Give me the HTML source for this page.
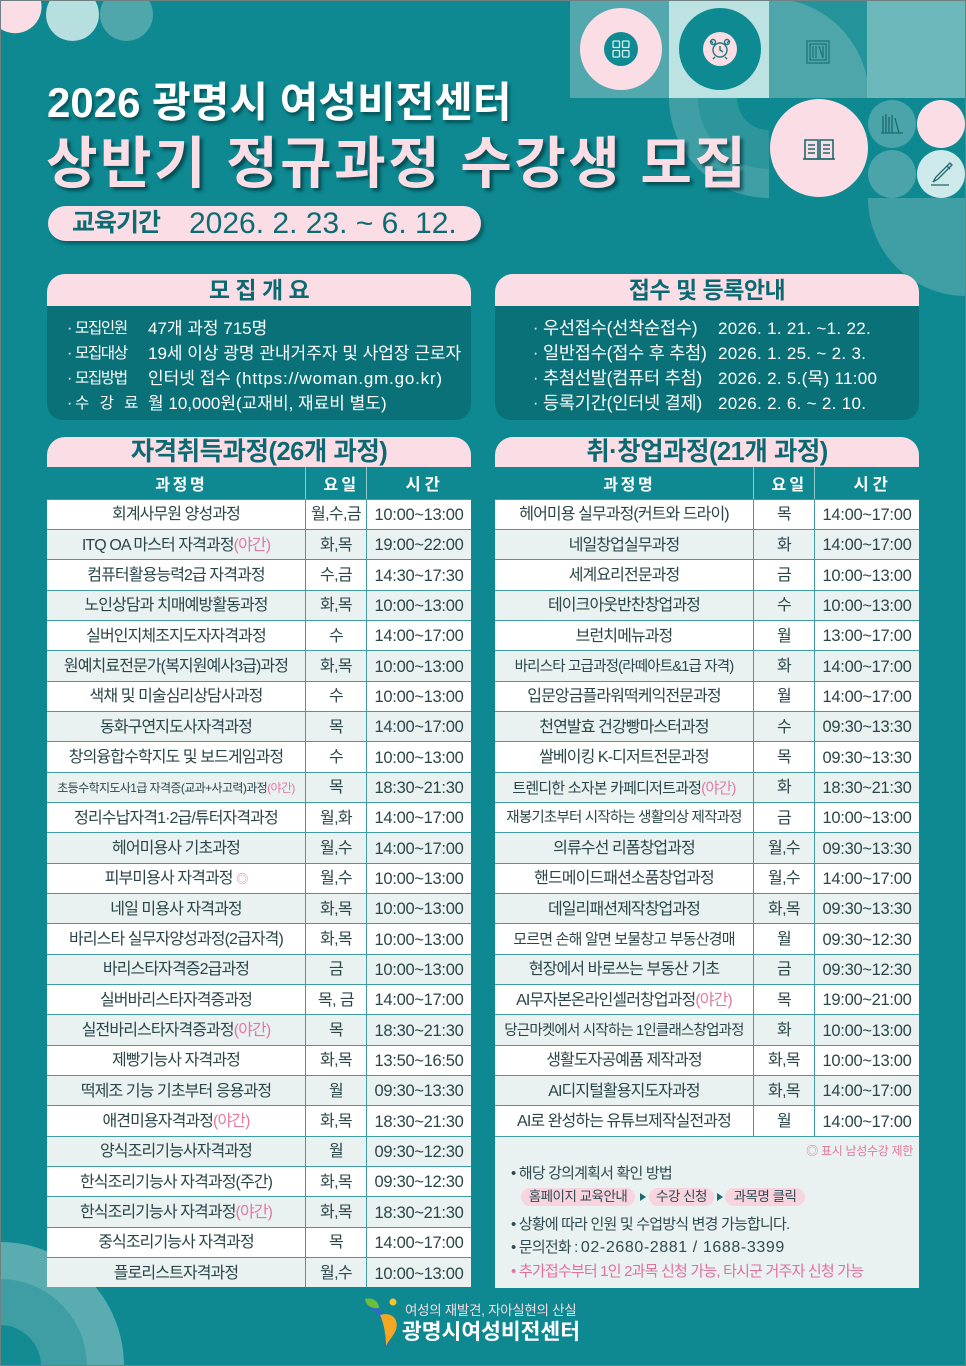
<!DOCTYPE html>
<html lang="ko">
<head>
<meta charset="utf-8">
<style>
*{margin:0;padding:0;box-sizing:border-box}
html,body{width:966px;height:1366px;overflow:hidden;background:#0e8991}
body{position:relative;font-family:"Liberation Sans","Noto Sans CJK KR",sans-serif}
.abs{position:absolute;white-space:nowrap}
.t1{color:#fff;font-weight:700;text-shadow:2px 3px 3px rgba(0,45,50,.6)}
.t2{color:#fbdde5;font-weight:700;text-shadow:3px 3px 3px rgba(0,45,50,.65)}
.pill{position:absolute;left:48px;top:206px;width:433px;height:35px;border-radius:18px;background:#fbdde5;box-shadow:3px 3px 3px rgba(0,45,50,.45);color:#0d6b72}
.box{position:absolute;top:274px;width:424px}
.bt{height:32px;background:#fbdde5;border-radius:18px 18px 0 0;text-align:center;font-weight:700;font-size:23px;line-height:32px;color:#0b6a71;letter-spacing:-0.5px}
.bb{height:114px;background:#0b7178;border-radius:0 0 16px 16px;position:relative;color:#fff}
.ln{position:absolute;left:0;right:0;height:25px;line-height:25px;white-space:nowrap}
.ln span{position:absolute;top:0}
.lb{font-size:15.5px;letter-spacing:-1.3px}
.lv{font-size:17px;letter-spacing:0}
.rl{font-size:17.5px;letter-spacing:-0.2px}
.rv{font-size:17px;letter-spacing:0.3px}
.tt{position:absolute;top:437px;width:424px;height:30px;background:#fbdde5;border-radius:18px 18px 0 0;text-align:center;font-weight:700;font-size:25.5px;line-height:31px;color:#0b6a71;letter-spacing:-0.5px}
.tbl{position:absolute;top:467px;width:424px}
.th{height:31.5px;display:flex;background:#0e8991;color:#fff;font-weight:700;font-size:16px;letter-spacing:7px}
.th>div{display:flex;align-items:center;justify-content:center;padding-left:7px}
.th .c2,.th .c3{border-left:1.5px solid #8fcacd}
.r{height:30.35px;display:flex;border-top:1.5px solid #3f9ca2;background:#fff;color:#2a4649}
.r:nth-child(odd){background:#e9f1f1}
.r>div{display:flex;align-items:center;justify-content:center;line-height:1;white-space:nowrap;padding-top:2px}
.c1{width:258px;font-size:16px;letter-spacing:-0.9px}
.c2{width:61px;border-left:1.5px solid #3f9ca2;font-size:16px;letter-spacing:-0.6px}
.c3{width:105px;border-left:1.5px solid #3f9ca2;font-size:16.5px;letter-spacing:-0.3px}
.y{color:#e27aa3}
.s14{font-size:14.5px !important;letter-spacing:-0.8px !important}
.s145{font-size:15px !important;letter-spacing:-0.8px !important}
.s115{font-size:12px !important;letter-spacing:-0.6px !important}
.notes{position:absolute;left:495px;top:1135.8px;width:424px;height:151.8px;background:#e9f1f1;border-top:1.5px solid #3f9ca2;color:#2e4b4f}
.nl{position:absolute;left:16px;height:22px;line-height:22px;font-size:15px;letter-spacing:-0.8px;white-space:nowrap}
.pl{position:absolute;top:51px;height:18px;line-height:18px;border-radius:9px;background:#f8d4df;font-size:13.5px;letter-spacing:-0.5px;text-align:center;color:#2e4b4f}
.ar{position:absolute;top:56px;width:0;height:0;border-top:4px solid transparent;border-bottom:4px solid transparent;border-left:6px solid #1b6a70}
</style>
</head>
<body>
<svg class="abs" style="left:0;top:0" width="966" height="1366" viewBox="0 0 966 1366" xmlns="http://www.w3.org/2000/svg">
<rect width="966" height="1366" fill="#0e8991"/>
<path d="M0 0 L40.7 0 A26.5 26.5 0 0 1 0 28.5 Z" fill="#fbdde5"/>
<path d="M50.3 0 A26.5 26.5 0 1 0 94.7 0 Z" fill="#b8dfe0"/>
<path d="M104.3 0 A26.5 26.5 0 1 0 148.7 0 Z" fill="#4fa7ac"/>
<rect x="570" y="0" width="99" height="98" fill="#52a8ad"/>
<circle cx="621" cy="49" r="41" fill="#fbdde5"/>
<circle cx="621" cy="49" r="17" fill="#0e8a92"/>
<g fill="none" stroke="#d6f0f0" stroke-width="1.3">
<rect x="613" y="41" width="6.5" height="6.5" rx="1"/><rect x="622.5" y="41" width="6.5" height="6.5" rx="1"/>
<rect x="613" y="50.5" width="6.5" height="6.5" rx="1"/><rect x="622.5" y="50.5" width="6.5" height="6.5" rx="1"/>
</g>
<rect x="669" y="0" width="100" height="98" fill="#bde2e2"/>
<circle cx="720" cy="49" r="41" fill="#0e8a92"/>
<circle cx="720" cy="49" r="17" fill="#fbdde5"/>
<g fill="none" stroke="#1b7a80" stroke-width="1.4">
<circle cx="720" cy="50" r="7"/><path d="M720 46v4l3 2M713 43l-2-2M727 43l2-2M715 57l-2 2M725 57l2 2"/>
<circle cx="713" cy="42" r="2.5"/><circle cx="727" cy="42" r="2.5"/>
</g>
<rect x="769" y="0" width="98" height="98" fill="#24939a"/>
<path d="M769 98 L769 0 L788.9 0 A100 100 0 0 1 867 78.1 L867 98 Z" fill="#4ea6ab"/>
<g fill="none" stroke="#1d7479" stroke-width="1.3">
<rect x="807" y="41" width="22" height="22"/><rect x="810" y="44" width="16" height="16"/>
<path d="M813 46v12M816 46v12M819 46l4 12M823 46v12"/>
</g>
<rect x="867" y="0" width="99" height="98" fill="#6cb8bb"/>
<path d="M769 98 L669 98 A100 100 0 0 0 769 198 Z" fill="#3f9fa5"/>
<path d="M769 98 L698 98 A71 71 0 0 0 769 169 Z" fill="#2d969c"/>
<path d="M769 98 L737 98 A32 32 0 0 0 769 130 Z" fill="#0e8991"/>
<path d="M966 198 L868 198 A98 98 0 0 0 966 296 Z" fill="#3f9fa5"/>
<circle cx="819" cy="148" r="49" fill="#fbdde5"/>
<g fill="none" stroke="#1d6a70" stroke-width="1.6">
<path d="M805 140h13v19h-13zM820 140h13v19h-13z"/>
<path d="M808 145h7M808 149h7M808 153h7M823 145h7M823 149h7M823 153h7M803 159h32"/>
</g>
<circle cx="892" cy="124" r="24" fill="#4aa4a9"/>
<circle cx="941" cy="124" r="24" fill="#fbdde5"/>
<circle cx="892" cy="174" r="24" fill="#4aa4a9"/>
<circle cx="941" cy="174" r="24" fill="#cde9e9"/>
<g fill="none" stroke="#1d6a70" stroke-width="1.3">
<path d="M883 116v17M886 114v19M889 117v16M892 115v18M895 118l4 15M881 133h22"/>
<path d="M950 163l-14 14l-3 5l5-3l14-14zM947 166l3 3M931 185h18"/>
</g>
<path d="M0 1366 L0 1242 A124 124 0 0 1 124 1366 Z" fill="#5aacb0"/>
<path d="M0 1366 L0 1279 A87 87 0 0 1 87 1366 Z" fill="#3e9ea4"/>
<path d="M0 1366 L0 1325 A41 41 0 0 1 41 1366 Z" fill="#138b93"/>
<path d="M369 1306 C381 1310 390 1322 387 1346" fill="none" stroke="#2a6fc0" stroke-width="5"/>
<path d="M380 1315 C394 1311 400 1322 395 1332 C391 1339 387 1343 386 1346 C386 1335 384 1324 380 1315 Z" fill="#f5a623"/>
<path d="M365 1299 C372 1297 379 1301 379 1308 C372 1309 366 1306 365 1299 Z" fill="#6cbf3a"/>
<circle cx="393" cy="1302" r="3.5" fill="#f7c531"/>
<rect x="0.5" y="0.5" width="965" height="1365" fill="none" stroke="#6f8080" stroke-width="1"/>
</svg>

<div class="abs t1" style="left:47px;top:83px;font-size:42px;line-height:40px;letter-spacing:0">2026 광명시 여성비전센터</div>
<div class="abs t2" style="left:46px;top:134px;font-size:56px;line-height:60px;letter-spacing:2.5px">상반기 정규과정 수강생 모집</div>

<div class="pill">
<span class="abs" style="left:24px;top:0;font-size:25px;line-height:35px;font-weight:700;letter-spacing:-1px">교육기간</span>
<span class="abs" style="left:141px;top:0;font-size:30px;line-height:36px">2026. 2. 23. ~ 6. 12.</span>
</div>

<div class="box" style="left:47px">
<div class="bt">모 집 개 요</div>
<div class="bb">
<div class="ln" style="top:9.5px"><span style="left:20px">·</span><span class="lb" style="left:28px">모집인원</span><span class="lv" style="left:101px">47개 과정 715명</span></div>
<div class="ln" style="top:34.5px"><span style="left:20px">·</span><span class="lb" style="left:28px">모집대상</span><span class="lv" style="left:101px">19세 이상 광명 관내거주자 및 사업장 근로자</span></div>
<div class="ln" style="top:59.5px"><span style="left:20px">·</span><span class="lb" style="left:28px">모집방법</span><span class="lv" style="left:101px">인터넷 접수 <span style="position:static;letter-spacing:0.8px">(https://woman.gm.go.kr)</span></span></div>
<div class="ln" style="top:84.5px"><span style="left:20px">·</span><span class="lb" style="left:28px;letter-spacing:3px">수 강 료</span><span class="lv" style="left:101px">월 10,000원(교재비, 재료비 별도)</span></div>
</div>
</div>

<div class="box" style="left:495px">
<div class="bt">접수 및 등록안내</div>
<div class="bb">
<div class="ln" style="top:9.5px"><span style="left:38px">·</span><span class="rl" style="left:48px">우선접수(선착순접수)</span><span class="rv" style="left:223px">2026. 1. 21. ~1. 22.</span></div>
<div class="ln" style="top:34.5px"><span style="left:38px">·</span><span class="rl" style="left:48px">일반접수(접수 후 추첨)</span><span class="rv" style="left:223px">2026. 1. 25. ~ 2. 3.</span></div>
<div class="ln" style="top:59.5px"><span style="left:38px">·</span><span class="rl" style="left:48px">추첨선발(컴퓨터 추첨)</span><span class="rv" style="left:223px">2026. 2. 5.(목) 11:00</span></div>
<div class="ln" style="top:84.5px"><span style="left:38px">·</span><span class="rl" style="left:48px">등록기간(인터넷 결제)</span><span class="rv" style="left:223px">2026. 2. 6. ~ 2. 10.</span></div>
</div>
</div>

<div class="tt" style="left:47px">자격취득과정(26개 과정)</div>
<div class="tt" style="left:495px">취·창업과정(21개 과정)</div>

<div class="tbl" style="left:47px">
<div class="th"><div class="c1">과 정 명</div><div class="c2">요 일</div><div class="c3">시 간</div></div>
<div class="r"><div class="c1">회계사무원 양성과정</div><div class="c2">월,수,금</div><div class="c3">10:00~13:00</div></div>
<div class="r"><div class="c1">ITQ OA 마스터 자격과정<span class="y">(야간)</span></div><div class="c2">화,목</div><div class="c3">19:00~22:00</div></div>
<div class="r"><div class="c1">컴퓨터활용능력2급 자격과정</div><div class="c2">수,금</div><div class="c3">14:30~17:30</div></div>
<div class="r"><div class="c1">노인상담과 치매예방활동과정</div><div class="c2">화,목</div><div class="c3">10:00~13:00</div></div>
<div class="r"><div class="c1">실버인지체조지도자자격과정</div><div class="c2">수</div><div class="c3">14:00~17:00</div></div>
<div class="r"><div class="c1">원예치료전문가(복지원예사3급)과정</div><div class="c2">화,목</div><div class="c3">10:00~13:00</div></div>
<div class="r"><div class="c1">색채 및 미술심리상담사과정</div><div class="c2">수</div><div class="c3">10:00~13:00</div></div>
<div class="r"><div class="c1">동화구연지도사자격과정</div><div class="c2">목</div><div class="c3">14:00~17:00</div></div>
<div class="r"><div class="c1">창의융합수학지도 및 보드게임과정</div><div class="c2">수</div><div class="c3">10:00~13:00</div></div>
<div class="r"><div class="c1 s115">초등수학지도사1급 자격증(교과+사고력)과정<span class="y">(야간)</span></div><div class="c2">목</div><div class="c3">18:30~21:30</div></div>
<div class="r"><div class="c1">정리수납자격1·2급/튜터자격과정</div><div class="c2">월,화</div><div class="c3">14:00~17:00</div></div>
<div class="r"><div class="c1">헤어미용사 기초과정</div><div class="c2">월,수</div><div class="c3">14:00~17:00</div></div>
<div class="r"><div class="c1">피부미용사 자격과정&nbsp;<span class="y" style="font-size:12px">◎</span></div><div class="c2">월,수</div><div class="c3">10:00~13:00</div></div>
<div class="r"><div class="c1">네일 미용사 자격과정</div><div class="c2">화,목</div><div class="c3">10:00~13:00</div></div>
<div class="r"><div class="c1">바리스타 실무자양성과정(2급자격)</div><div class="c2">화,목</div><div class="c3">10:00~13:00</div></div>
<div class="r"><div class="c1">바리스타자격증2급과정</div><div class="c2">금</div><div class="c3">10:00~13:00</div></div>
<div class="r"><div class="c1">실버바리스타자격증과정</div><div class="c2">목, 금</div><div class="c3">14:00~17:00</div></div>
<div class="r"><div class="c1">실전바리스타자격증과정<span class="y">(야간)</span></div><div class="c2">목</div><div class="c3">18:30~21:30</div></div>
<div class="r"><div class="c1">제빵기능사 자격과정</div><div class="c2">화,목</div><div class="c3">13:50~16:50</div></div>
<div class="r"><div class="c1">떡제조 기능 기초부터 응용과정</div><div class="c2">월</div><div class="c3">09:30~13:30</div></div>
<div class="r"><div class="c1">애견미용자격과정<span class="y">(야간)</span></div><div class="c2">화,목</div><div class="c3">18:30~21:30</div></div>
<div class="r"><div class="c1">양식조리기능사자격과정</div><div class="c2">월</div><div class="c3">09:30~12:30</div></div>
<div class="r"><div class="c1">한식조리기능사 자격과정(주간)</div><div class="c2">화,목</div><div class="c3">09:30~12:30</div></div>
<div class="r"><div class="c1">한식조리기능사 자격과정<span class="y">(야간)</span></div><div class="c2">화,목</div><div class="c3">18:30~21:30</div></div>
<div class="r"><div class="c1">중식조리기능사 자격과정</div><div class="c2">목</div><div class="c3">14:00~17:00</div></div>
<div class="r"><div class="c1">플로리스트자격과정</div><div class="c2">월,수</div><div class="c3">10:00~13:00</div></div>
</div>

<div class="tbl" style="left:495px">
<div class="th"><div class="c1">과 정 명</div><div class="c2">요 일</div><div class="c3">시 간</div></div>
<div class="r"><div class="c1">헤어미용 실무과정(커트와 드라이)</div><div class="c2">목</div><div class="c3">14:00~17:00</div></div>
<div class="r"><div class="c1">네일창업실무과정</div><div class="c2">화</div><div class="c3">14:00~17:00</div></div>
<div class="r"><div class="c1">세계요리전문과정</div><div class="c2">금</div><div class="c3">10:00~13:00</div></div>
<div class="r"><div class="c1">테이크아웃반찬창업과정</div><div class="c2">수</div><div class="c3">10:00~13:00</div></div>
<div class="r"><div class="c1">브런치메뉴과정</div><div class="c2">월</div><div class="c3">13:00~17:00</div></div>
<div class="r"><div class="c1 s14">바리스타 고급과정(라떼아트&amp;1급 자격)</div><div class="c2">화</div><div class="c3">14:00~17:00</div></div>
<div class="r"><div class="c1">입문앙금플라워떡케익전문과정</div><div class="c2">월</div><div class="c3">14:00~17:00</div></div>
<div class="r"><div class="c1">천연발효 건강빵마스터과정</div><div class="c2">수</div><div class="c3">09:30~13:30</div></div>
<div class="r"><div class="c1">쌀베이킹 K-디저트전문과정</div><div class="c2">목</div><div class="c3">09:30~13:30</div></div>
<div class="r"><div class="c1 s145">트렌디한 소자본 카페디저트과정<span class="y">(야간)</span></div><div class="c2">화</div><div class="c3">18:30~21:30</div></div>
<div class="r"><div class="c1 s14">재봉기초부터 시작하는 생활의상 제작과정</div><div class="c2">금</div><div class="c3">10:00~13:00</div></div>
<div class="r"><div class="c1">의류수선 리폼창업과정</div><div class="c2">월,수</div><div class="c3">09:30~13:30</div></div>
<div class="r"><div class="c1">핸드메이드패션소품창업과정</div><div class="c2">월,수</div><div class="c3">14:00~17:00</div></div>
<div class="r"><div class="c1">데일리패션제작창업과정</div><div class="c2">화,목</div><div class="c3">09:30~13:30</div></div>
<div class="r"><div class="c1 s145">모르면 손해 알면 보물창고 부동산경매</div><div class="c2">월</div><div class="c3">09:30~12:30</div></div>
<div class="r"><div class="c1">현장에서 바로쓰는 부동산 기초</div><div class="c2">금</div><div class="c3">09:30~12:30</div></div>
<div class="r"><div class="c1">AI무자본온라인셀러창업과정<span class="y">(야간)</span></div><div class="c2">목</div><div class="c3">19:00~21:00</div></div>
<div class="r"><div class="c1 s14">당근마켓에서 시작하는 1인클래스창업과정</div><div class="c2">화</div><div class="c3">10:00~13:00</div></div>
<div class="r"><div class="c1">생활도자공예품 제작과정</div><div class="c2">화,목</div><div class="c3">10:00~13:00</div></div>
<div class="r"><div class="c1">AI디지털활용지도자과정</div><div class="c2">화,목</div><div class="c3">14:00~17:00</div></div>
<div class="r"><div class="c1">AI로 완성하는 유튜브제작실전과정</div><div class="c2">월</div><div class="c3">14:00~17:00</div></div>
</div>

<div class="notes">
<div class="abs" style="right:6px;top:5px;font-size:12px;line-height:18px;color:#e1789f;letter-spacing:-0.3px">◎ 표시 남성수강 제한</div>
<div class="nl" style="top:26px">• 해당 강의계획서 확인 방법</div>
<div class="pl" style="left:26px;width:114px">홈페이지 교육안내</div>
<div class="ar" style="left:145px"></div>
<div class="pl" style="left:154px;width:65px">수강 신청</div>
<div class="ar" style="left:222px"></div>
<div class="pl" style="left:230px;width:80px">과목명 클릭</div>
<div class="nl" style="top:77px">• 상황에 따라 인원 및 수업방식 변경 가능합니다.</div>
<div class="nl" style="top:100px">• 문의전화 : <span style="font-size:16px;letter-spacing:0.6px">02-2680-2881 / 1688-3399</span></div>
<div class="nl" style="top:124px;color:#e3709c">• 추가접수부터 1인 2과목 신청 가능, 타시군 거주자 신청 가능</div>
</div>

<div class="abs" style="left:405px;top:1302px;font-size:13.5px;line-height:18px;color:#f6dbe3;letter-spacing:-0.3px">여성의 재발견, 자아실현의 산실</div>
<div class="abs" style="left:402px;top:1320px;font-size:21.5px;line-height:25px;font-weight:700;color:#fff;letter-spacing:0">광명시여성비전센터</div>
</body>
</html>
